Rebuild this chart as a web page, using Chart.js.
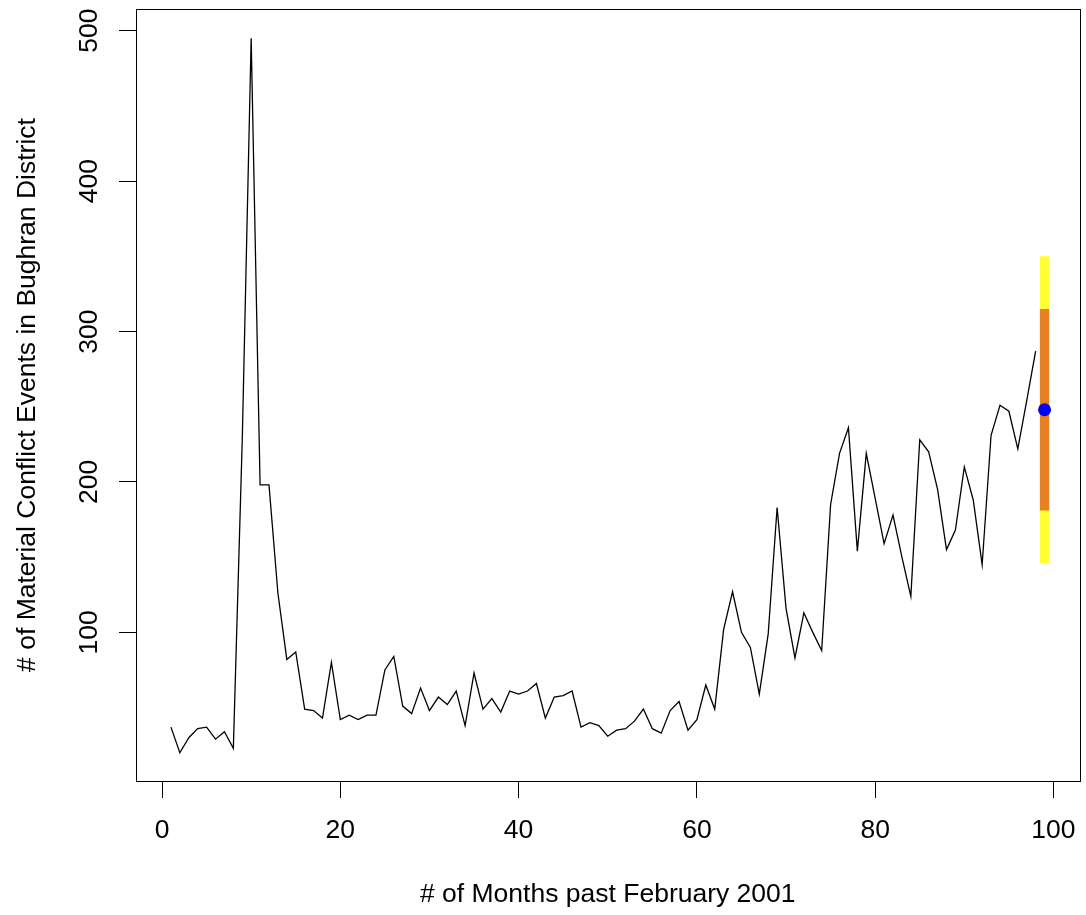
<!DOCTYPE html>
<html>
<head>
<meta charset="utf-8">
<script src="https://cdn.jsdelivr.net/npm/chart.js@4.4.1/dist/chart.umd.min.js"></script>
<style>
  html, body { margin: 0; padding: 0; background: #ffffff; }
  #c { display: block; }
</style>
</head>
<body>
<canvas id="c" width="1086" height="915"></canvas>
<script>
// ---- data ----
const months = [1,2,3,4,5,6,7,8,9,10,11,12,13,14,15,16,17,18,19,20,
  21,22,23,24,25,26,27,28,29,30,31,32,33,34,35,36,37,38,39,40,
  41,42,43,44,45,46,47,48,49,50,51,52,53,54,55,56,57,58,59,60,
  61,62,63,64,65,66,67,68,69,70,71,72,73,74,75,76,77,78,79,80,
  81,82,83,84,85,86,87,88,89,90,91,92,93,94,95,96,97,98];
const events = [37,20,30,36,37,29,34,23,228,495,198,198,126,82,87,49,48,43,80,42,
  45,42,45,45,75,84,51,46,63,48,57,52,61,38,73,49,56,47,61,59,
  61,66,43,57,58,61,37,40,38,31,35,36,41,49,36,33,48,54,35,42,
  65,49,102,127,100,90,59,99,183,116,83,113,100,88,185,219,236,154,219,189,
  159,178,150,124,228,220,195,155,168,210,188,145,231,251,247,222,254,287];
const forecastMonth = 99;
const forecastValue = 248;
const intervalOuter = [146, 350];
const intervalInner = [181, 315];
const xTickValues = [0, 20, 40, 60, 80, 100];
const yTickValues = [100, 200, 300, 400, 500];
const xTitle = '# of Months past February 2001';
const yTitle = '# of Material Conflict Events in Bughran District';

// ---- chart ----
const FONT = 'Liberation Sans, Arial, Helvetica, sans-serif';
const FS = 26.5;

const boxPlugin = {
  id: 'box',
  afterDraw(chart) {
    const a = chart.chartArea;
    const ctx = chart.ctx;
    ctx.save();
    ctx.strokeStyle = '#000';
    ctx.lineWidth = 1;
    ctx.strokeRect(Math.round(a.left) + 0.5, Math.round(a.top) + 0.5,
      Math.round(a.right - a.left), Math.round(a.bottom - a.top));
    ctx.restore();
  }
};

new Chart(document.getElementById('c'), {
  type: 'line',
  data: {
    datasets: [
      {
        data: [{x: forecastMonth, y: forecastValue}],
        showLine: false,
        pointRadius: 6.5,
        pointBackgroundColor: '#0000ff',
        pointBorderWidth: 0,
        order: 0
      },
      {
        data: intervalInner.map(v => ({x: forecastMonth, y: v})),
        borderColor: '#e58023',
        borderWidth: 9.3,
        borderCapStyle: 'butt',
        pointRadius: 0,
        order: 1
      },
      {
        data: intervalOuter.map(v => ({x: forecastMonth, y: v})),
        borderColor: '#ffff33',
        borderWidth: 9.3,
        borderCapStyle: 'butt',
        pointRadius: 0,
        order: 2
      },
      {
        data: months.map((m, i) => ({x: m, y: events[i]})),
        borderColor: '#000000',
        borderWidth: 1.3,
        pointRadius: 0,
        tension: 0,
        order: 3
      }
    ]
  },
  options: {
    responsive: false,
    animation: false,
    devicePixelRatio: 1,
    layout: { padding: { left: 0, top: 9, right: 5, bottom: 0 } },
    plugins: { legend: { display: false }, tooltip: { enabled: false } },
    scales: {
      x: {
        type: 'linear',
        min: -2.92,
        max: 102.92,
        afterBuildTicks(s) { s.ticks = xTickValues.map(v => ({value: v})); },
        afterFit(s) { s.height = 915 - 781; s.paddingLeft = 0; s.paddingRight = 0; },
        grid: { display: true, drawOnChartArea: false, drawTicks: true, tickLength: 17, color: '#000', lineWidth: 1 },
        border: { display: false },
        ticks: { color: '#000', font: { family: FONT, size: FS }, padding: 17, maxRotation: 0, autoSkip: false },
        title: { display: true, text: xTitle, color: '#000', font: { family: FONT, size: FS }, padding: { top: 0, bottom: 4 } }
      },
      y: {
        type: 'linear',
        min: 1.2,
        max: 514.4,
        afterBuildTicks(s) { s.ticks = yTickValues.map(v => ({value: v})); },
        afterFit(s) { s.width = 136; s.paddingTop = 0; s.paddingBottom = 0; },
        grid: { display: true, drawOnChartArea: false, drawTicks: true, tickLength: 17, color: '#000', lineWidth: 1 },
        border: { display: false },
        ticks: { color: '#000', font: { family: FONT, size: FS }, padding: 7.5, minRotation: 90, maxRotation: 90, crossAlign: 'center', autoSkip: false },
        title: { display: true, text: yTitle, color: '#000', font: { family: FONT, size: FS }, padding: { top: 12, bottom: 0 } }
      }
    }
  },
  plugins: [boxPlugin]
});
</script>
</body>
</html>
